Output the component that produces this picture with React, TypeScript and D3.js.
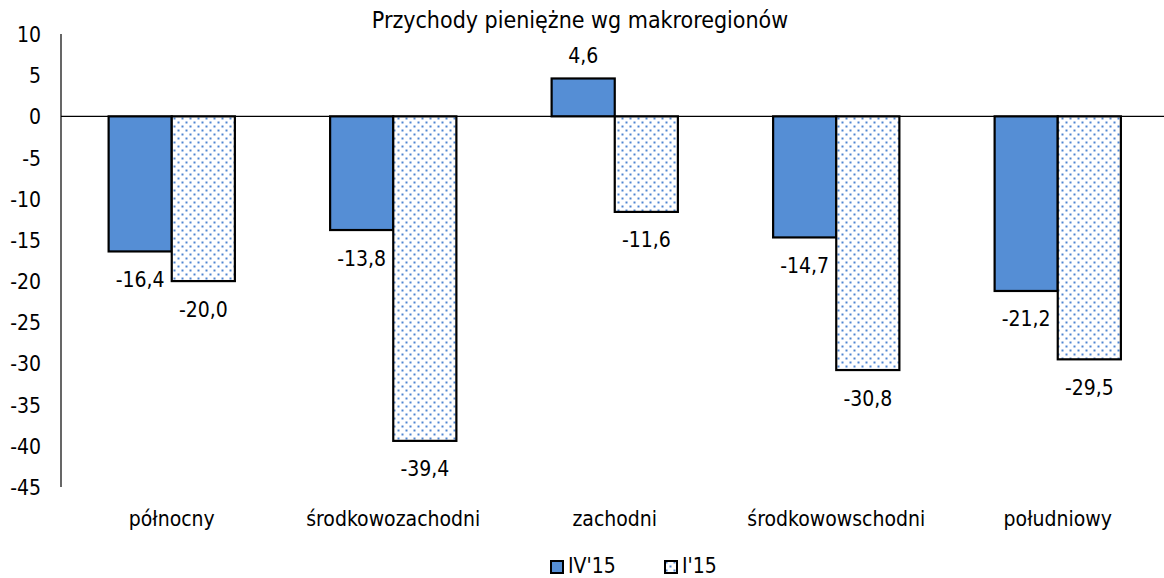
import React from 'react';
import * as d3 from 'd3';

const categories = ['północny', 'środkowozachodni', 'zachodni', 'środkowowschodni', 'południowy'];
const seriesNames = ["IV'15", "I'15"];
const valuesIV15 = [-16.4, -13.8, 4.6, -14.7, -21.2];
const valuesI15 = [-20.0, -39.4, -11.6, -30.8, -29.5];
const yTicks = [10, 5, 0, -5, -10, -15, -20, -25, -30, -35, -40, -45];

const W = 1164;
const H = 578;
const FONT = 'Tahoma, "DejaVu Sans Condensed", sans-serif';
const BLUE = '#558ed5';

const fmt = (v: number) => v.toFixed(1).replace('.', ',');

export default function App() {
  const x = d3.scaleBand<string>().domain(categories).range([61, 1168.5]).paddingInner(0.43).paddingOuter(0.215);
  const y = d3.scaleLinear().domain([-45, 10]).range([487, 34]);
  const sub = d3.scaleBand<number>().domain([0, 1]).range([0, x.bandwidth()]);
  const series = [valuesIV15, valuesI15];

  return (
    <svg width={W} height={H} style={{ position: 'absolute', left: 0, top: 0 }} fontFamily={FONT}>
      <defs>
        <pattern id="dots" width="8" height="8" patternUnits="userSpaceOnUse">
          <rect width="8" height="8" fill="#fff" />
          <rect x="1.5" y="1.5" width="2" height="2" fill="#4f86d1" />
          <rect x="5.5" y="5.5" width="2" height="2" fill="#4f86d1" />
        </pattern>
      </defs>
      <text x={580} y={28} textAnchor="middle" fontSize={23} fill="#000">
        Przychody pieniężne wg makroregionów
      </text>
      {yTicks.map((t) => (
        <text key={t} x={41} y={y(t) + 8} textAnchor="end" fontSize={21} fill="#000">
          {t}
        </text>
      ))}
      {series.map((vals, si) =>
        vals.map((v, i) => {
          const bx = (x(categories[i]) as number) + (sub(si) as number);
          const top = y(Math.max(0, v));
          const h = Math.abs(y(v) - y(0));
          return (
            <g key={`${si}-${i}`}>
              <rect
                x={bx}
                y={top}
                width={sub.bandwidth()}
                height={h}
                fill={si === 0 ? BLUE : 'url(#dots)'}
                stroke="#000"
                strokeWidth={2.2}
              />
              <text
                x={bx + sub.bandwidth() / 2}
                y={v >= 0 ? y(v) - 15.5 : y(v) + 35.5}
                textAnchor="middle"
                fontSize={21}
                fill="#000"
              >
                {fmt(v)}
              </text>
            </g>
          );
        })
      )}
      <line x1={61} x2={W} y1={y(0)} y2={y(0)} stroke="#000" strokeWidth={1.2} />
      <line x1={61} x2={61} y1={y(10)} y2={y(-45)} stroke="#000" strokeWidth={1.2} />
      {categories.map((c) => (
        <text key={c} x={(x(c) as number) + x.bandwidth() / 2} y={526} textAnchor="middle" fontSize={21} fill="#000">
          {c}
        </text>
      ))}
      {seriesNames.map((n, i) => {
        const lx = 551 + i * 114;
        return (
          <g key={n}>
            <rect x={lx} y={561} width={12} height={12} fill={i === 0 ? BLUE : 'url(#dots)'} stroke="#000" strokeWidth={2} />
            <text x={lx + 17} y={573} fontSize={21} fill="#000">
              {n}
            </text>
          </g>
        );
      })}
    </svg>
  );
}
